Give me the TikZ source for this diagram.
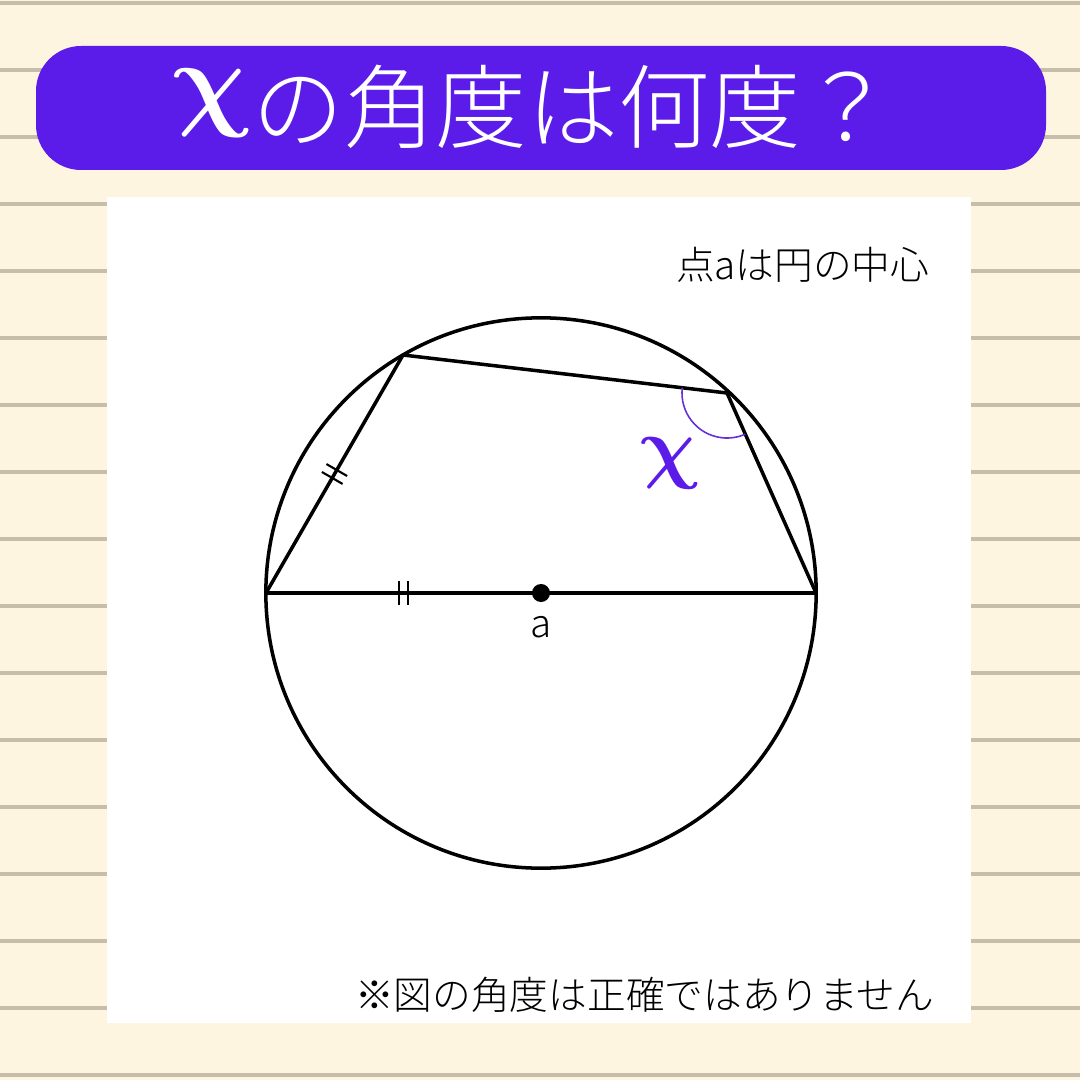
\documentclass[tikz,border=0pt]{standalone}
\usepackage{fontspec}
\usepackage{bm}
\setmainfont{Noto Sans CJK JP Light}
\usetikzlibrary{calc, backgrounds}

\definecolor{paper}{HTML}{FDF5E0}
\definecolor{rule}{HTML}{C6BEAA}
\definecolor{violet}{HTML}{5B1BE8}
\definecolor{arcviolet}{HTML}{6431D6}

\begin{document}
\begin{tikzpicture}[x=0.01cm, y=-0.01cm,
    fig/.style={line width=1pt, black},
    tick/.style={line width=0.6pt, black},
    small/.style={font=\fontsize{11}{12}\selectfont, inner sep=0pt},
    chi/.style={inner sep=0pt, font=\fontsize{24.88}{25}\selectfont, transform shape, xslant=-0.15}]
      \useasboundingbox (0,0) rectangle (1080,1080);
      % ruled paper
      \fill[paper] (0,0) rectangle (1080,1080);
      \foreach \y in {3,70,...,1075} \draw[rule, line width=0.045cm] (0,\y) -- (1080,\y);
      % title bar
      \fill[violet, rounded corners=0.45cm] (36,46) rectangle (1046,170);
      \node[white, font=\fontsize{26}{28}\selectfont, inner sep=0pt, anchor=west] (title) at (252,107)
      {の角度は何度？};
      \node[chi, white, scale=1.22, anchor=east] (tchi) at ([xshift=-0.01cm, yshift=0.04cm]title.west) {$\bm{\chi}$};
      % sheet
      \fill[white] (107,197) rectangle (971,1023);
      \node[small, anchor=east] (note) at (930,265) {点aは円の中心};
      \node[font=\fontsize{11}{13}\selectfont, inner sep=0pt, anchor=east] (warn) at (935,995)
      {※図の角度は正確ではありません};

      % circle and quadrilateral
      \coordinate (O) at (541,593);
      \coordinate (A) at (266,593); \coordinate (B) at (403,355);
      \coordinate (C) at (727,393); \coordinate (D) at (816,593);
      \draw[fig] (O) circle (2.75cm);
      \draw[fig, line join=round] (A) -- (B) -- (C) -- (D) -- cycle;
      \fill (O) circle (0.09cm);
      \node[small] (a) at (541,627) {a};

      % equal marks
      \coordinate (m1) at ($(A)!0.5!(B)$); \coordinate (m2) at ($(A)!0.5!(O)$);
      \draw[tick, shift={(m1)}, rotate=60] (-1.3pt,-3.4pt) -- (-1.3pt,3.4pt) (1.3pt,-3.4pt) -- (1.3pt,3.4pt);
      \draw[tick, shift={(m2)}] (-1.3pt,-3.4pt) -- (-1.3pt,3.4pt) (1.3pt,-3.4pt) -- (1.3pt,3.4pt);

      % angle x
      \draw[arcviolet, line width=0.45pt] ($(C)+(173.3:0.45cm)$) arc (173.3:294:0.45cm);
      \node[chi, violet, scale=0.92] (x) at (670,463) {$\bm{\chi}$};
\end{tikzpicture}
\end{document}
